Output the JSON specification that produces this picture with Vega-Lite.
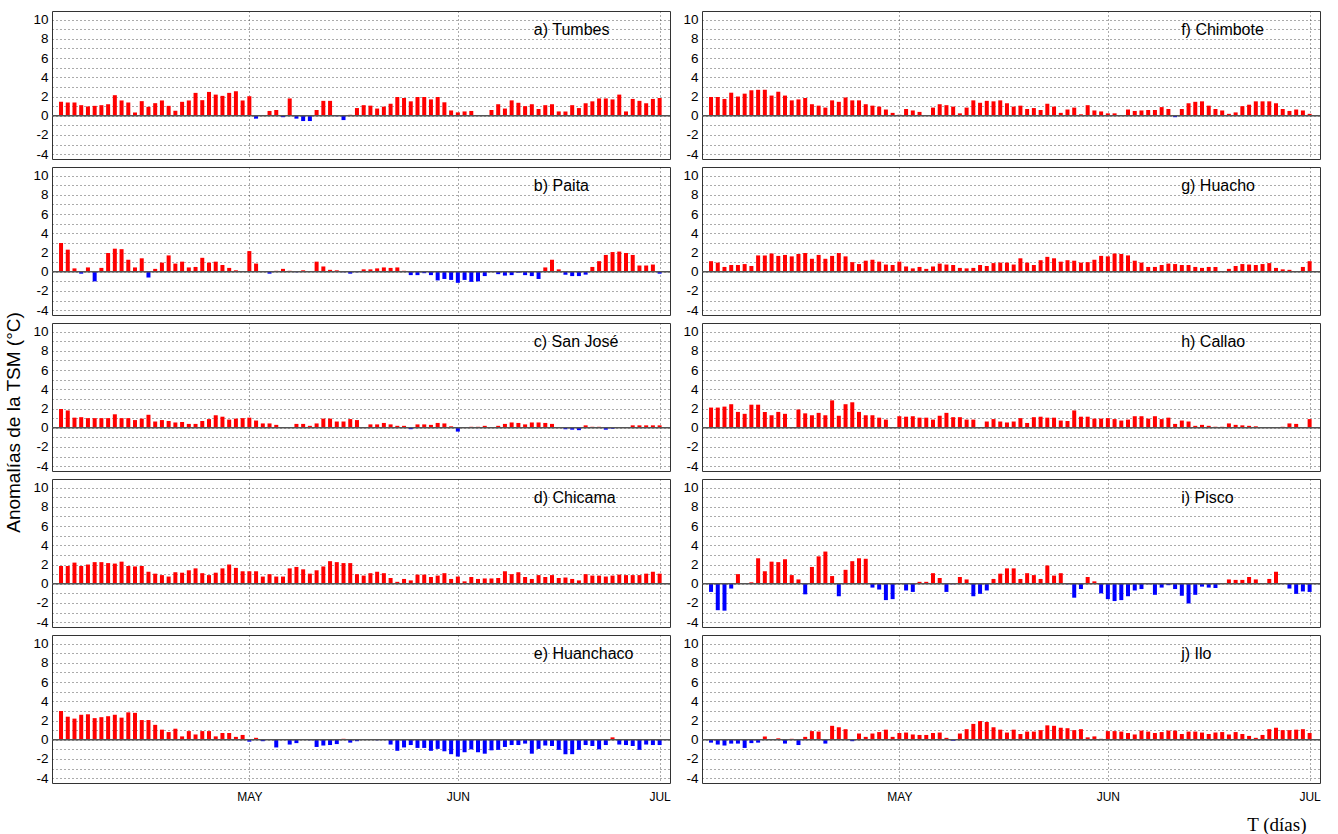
{
"$schema": "https://vega.github.io/schema/vega-lite/v6.json",
"background": "white",
"padding": {"left": 5, "top": 10, "right": 0, "bottom": 0},
"title": {"text": "Anomalías de la TSM (°C)", "orient": "left", "anchor": "middle", "font": "Liberation Sans", "fontSize": 19, "fontWeight": "normal", "color": "#000", "offset": 8},
"config": {
  "view": {"stroke": "#333", "strokeWidth": 1},
  "font": "Liberation Sans",
  "axis": {"labelFont": "Liberation Sans", "labelColor": "#000", "domain": false, "gridColor": "#222", "gridDash": [1, 3], "gridWidth": 0.9, "gridOpacity": 0.85, "tickColor": "#333", "labelFontSize": 13.5, "labelOverlap": false}
},
"datasets": {"t": [
{"s":"a","d":-28,"v":1.45},{"s":"a","d":-27,"v":1.38},{"s":"a","d":-26,"v":1.38},{"s":"a","d":-25,"v":1.1},{"s":"a","d":-24,"v":0.97},{"s":"a","d":-23,"v":1.03},{"s":"a","d":-22,"v":1.1},{"s":"a","d":-21,"v":1.2},{"s":"a","d":-20,"v":2.14},{"s":"a","d":-19,"v":1.59},{"s":"a","d":-18,"v":1.38},{"s":"a","d":-17,"v":0.34},{"s":"a","d":-16,"v":1.52},{"s":"a","d":-15,"v":0.93},{"s":"a","d":-14,"v":1.31},{"s":"a","d":-13,"v":1.59},{"s":"a","d":-12,"v":1.03},{"s":"a","d":-11,"v":0.52},{"s":"a","d":-10,"v":1.45},{"s":"a","d":-9,"v":1.59},{"s":"a","d":-8,"v":2.38},{"s":"a","d":-7,"v":1.62},{"s":"a","d":-6,"v":2.48},{"s":"a","d":-5,"v":2.2},{"s":"a","d":-4,"v":2.07},{"s":"a","d":-3,"v":2.38},{"s":"a","d":-2,"v":2.55},{"s":"a","d":-1,"v":1.59},{"s":"a","d":0,"v":2.03},
{"s":"a","d":1,"v":-0.3},{"s":"a","d":2,"v":0},{"s":"a","d":3,"v":0.5},{"s":"a","d":4,"v":0.6},{"s":"a","d":5,"v":-0.15},{"s":"a","d":6,"v":1.8},{"s":"a","d":7,"v":-0.3},{"s":"a","d":8,"v":-0.55},{"s":"a","d":9,"v":-0.55},{"s":"a","d":10,"v":0.6},{"s":"a","d":11,"v":1.55},{"s":"a","d":12,"v":1.55},{"s":"a","d":13,"v":-0.05},{"s":"a","d":14,"v":-0.45},{"s":"a","d":15,"v":0.1},{"s":"a","d":16,"v":0.8},{"s":"a","d":17,"v":1.1},{"s":"a","d":18,"v":1.05},{"s":"a","d":19,"v":0.75},{"s":"a","d":20,"v":0.95},{"s":"a","d":21,"v":1.25},{"s":"a","d":22,"v":1.95},{"s":"a","d":23,"v":1.85},{"s":"a","d":24,"v":1.5},{"s":"a","d":25,"v":1.95},{"s":"a","d":26,"v":1.95},{"s":"a","d":27,"v":1.7},{"s":"a","d":28,"v":1.95},{"s":"a","d":29,"v":1.4},{"s":"a","d":30,"v":0.55},
{"s":"a","d":31,"v":0.35},{"s":"a","d":32,"v":0.45},{"s":"a","d":33,"v":0.5},{"s":"a","d":34,"v":0},{"s":"a","d":35,"v":0.05},{"s":"a","d":36,"v":0.6},{"s":"a","d":37,"v":1.2},{"s":"a","d":38,"v":0.75},{"s":"a","d":39,"v":1.6},{"s":"a","d":40,"v":1.35},{"s":"a","d":41,"v":1.0},{"s":"a","d":42,"v":1.2},{"s":"a","d":43,"v":0.7},{"s":"a","d":44,"v":1.1},{"s":"a","d":45,"v":1.2},{"s":"a","d":46,"v":0.45},{"s":"a","d":47,"v":0.45},{"s":"a","d":48,"v":1.1},{"s":"a","d":49,"v":0.8},{"s":"a","d":50,"v":1.3},{"s":"a","d":51,"v":1.5},{"s":"a","d":52,"v":1.8},{"s":"a","d":53,"v":1.8},{"s":"a","d":54,"v":1.7},{"s":"a","d":55,"v":2.2},{"s":"a","d":56,"v":0.45},{"s":"a","d":57,"v":1.75},{"s":"a","d":58,"v":1.55},{"s":"a","d":59,"v":1.3},{"s":"a","d":60,"v":1.75},{"s":"a","d":61,"v":1.85},
{"s":"b","d":-28,"v":3.0},{"s":"b","d":-27,"v":2.3},{"s":"b","d":-26,"v":0.35},{"s":"b","d":-25,"v":-0.2},{"s":"b","d":-24,"v":0.45},{"s":"b","d":-23,"v":-1.0},{"s":"b","d":-22,"v":0.4},{"s":"b","d":-21,"v":1.95},{"s":"b","d":-20,"v":2.4},{"s":"b","d":-19,"v":2.35},{"s":"b","d":-18,"v":1.25},{"s":"b","d":-17,"v":0.45},{"s":"b","d":-16,"v":1.4},{"s":"b","d":-15,"v":-0.6},{"s":"b","d":-14,"v":0.3},{"s":"b","d":-13,"v":0.95},{"s":"b","d":-12,"v":1.7},{"s":"b","d":-11,"v":0.85},{"s":"b","d":-10,"v":1.05},{"s":"b","d":-9,"v":0.45},{"s":"b","d":-8,"v":0.5},{"s":"b","d":-7,"v":1.45},{"s":"b","d":-6,"v":0.95},{"s":"b","d":-5,"v":1.05},{"s":"b","d":-4,"v":0.7},{"s":"b","d":-3,"v":0.4},{"s":"b","d":-2,"v":0.15},{"s":"b","d":-1,"v":0.05},{"s":"b","d":0,"v":2.15},
{"s":"b","d":1,"v":0.85},{"s":"b","d":2,"v":0},{"s":"b","d":3,"v":-0.2},{"s":"b","d":4,"v":0.1},{"s":"b","d":5,"v":0.3},{"s":"b","d":6,"v":0.1},{"s":"b","d":7,"v":-0.05},{"s":"b","d":8,"v":0.15},{"s":"b","d":9,"v":0},{"s":"b","d":10,"v":1.05},{"s":"b","d":11,"v":0.55},{"s":"b","d":12,"v":0.2},{"s":"b","d":13,"v":0.15},{"s":"b","d":14,"v":-0.05},{"s":"b","d":15,"v":-0.2},{"s":"b","d":16,"v":-0.05},{"s":"b","d":17,"v":0.25},{"s":"b","d":18,"v":0.25},{"s":"b","d":19,"v":0.35},{"s":"b","d":20,"v":0.45},{"s":"b","d":21,"v":0.4},{"s":"b","d":22,"v":0.45},{"s":"b","d":23,"v":0.1},{"s":"b","d":24,"v":-0.35},{"s":"b","d":25,"v":-0.35},{"s":"b","d":26,"v":-0.15},{"s":"b","d":27,"v":-0.35},{"s":"b","d":28,"v":-0.9},{"s":"b","d":29,"v":-0.75},{"s":"b","d":30,"v":-0.85},
{"s":"b","d":31,"v":-1.15},{"s":"b","d":32,"v":-0.85},{"s":"b","d":33,"v":-1.05},{"s":"b","d":34,"v":-1.0},{"s":"b","d":35,"v":-0.45},{"s":"b","d":36,"v":0},{"s":"b","d":37,"v":-0.25},{"s":"b","d":38,"v":-0.4},{"s":"b","d":39,"v":-0.35},{"s":"b","d":40,"v":-0.1},{"s":"b","d":41,"v":-0.35},{"s":"b","d":42,"v":-0.45},{"s":"b","d":43,"v":-0.75},{"s":"b","d":44,"v":0.45},{"s":"b","d":45,"v":1.25},{"s":"b","d":46,"v":0.25},{"s":"b","d":47,"v":-0.3},{"s":"b","d":48,"v":-0.45},{"s":"b","d":49,"v":-0.45},{"s":"b","d":50,"v":-0.3},{"s":"b","d":51,"v":0.5},{"s":"b","d":52,"v":1.1},{"s":"b","d":53,"v":1.75},{"s":"b","d":54,"v":2.05},{"s":"b","d":55,"v":2.1},{"s":"b","d":56,"v":1.95},{"s":"b","d":57,"v":1.75},{"s":"b","d":58,"v":0.65},{"s":"b","d":59,"v":0.65},{"s":"b","d":60,"v":0.75},{"s":"b","d":61,"v":-0.2},
{"s":"c","d":-28,"v":1.95},{"s":"c","d":-27,"v":1.8},{"s":"c","d":-26,"v":1.05},{"s":"c","d":-25,"v":1.1},{"s":"c","d":-24,"v":1.0},{"s":"c","d":-23,"v":1.0},{"s":"c","d":-22,"v":1.0},{"s":"c","d":-21,"v":1.0},{"s":"c","d":-20,"v":1.4},{"s":"c","d":-19,"v":1.0},{"s":"c","d":-18,"v":1.0},{"s":"c","d":-17,"v":0.8},{"s":"c","d":-16,"v":0.95},{"s":"c","d":-15,"v":1.35},{"s":"c","d":-14,"v":0.65},{"s":"c","d":-13,"v":0.8},{"s":"c","d":-12,"v":0.7},{"s":"c","d":-11,"v":0.55},{"s":"c","d":-10,"v":0.6},{"s":"c","d":-9,"v":0.4},{"s":"c","d":-8,"v":0.4},{"s":"c","d":-7,"v":0.7},{"s":"c","d":-6,"v":0.9},{"s":"c","d":-5,"v":1.3},{"s":"c","d":-4,"v":1.15},{"s":"c","d":-3,"v":0.85},{"s":"c","d":-2,"v":0.95},{"s":"c","d":-1,"v":1.0},{"s":"c","d":0,"v":1.05},
{"s":"c","d":1,"v":0.75},{"s":"c","d":2,"v":0.45},{"s":"c","d":3,"v":0.45},{"s":"c","d":4,"v":0.3},{"s":"c","d":5,"v":0},{"s":"c","d":6,"v":0},{"s":"c","d":7,"v":0.4},{"s":"c","d":8,"v":0.4},{"s":"c","d":9,"v":0.2},{"s":"c","d":10,"v":0.45},{"s":"c","d":11,"v":0.95},{"s":"c","d":12,"v":0.95},{"s":"c","d":13,"v":0.65},{"s":"c","d":14,"v":0.65},{"s":"c","d":15,"v":0.9},{"s":"c","d":16,"v":0.8},{"s":"c","d":17,"v":0.05},{"s":"c","d":18,"v":0.35},{"s":"c","d":19,"v":0.35},{"s":"c","d":20,"v":0.5},{"s":"c","d":21,"v":0.35},{"s":"c","d":22,"v":0.2},{"s":"c","d":23,"v":0.2},{"s":"c","d":24,"v":-0.15},{"s":"c","d":25,"v":0.35},{"s":"c","d":26,"v":0.35},{"s":"c","d":27,"v":0.3},{"s":"c","d":28,"v":0.5},{"s":"c","d":29,"v":0.45},{"s":"c","d":30,"v":0.15},
{"s":"c","d":31,"v":-0.4},{"s":"c","d":32,"v":0},{"s":"c","d":33,"v":0.1},{"s":"c","d":34,"v":0.1},{"s":"c","d":35,"v":0.2},{"s":"c","d":36,"v":0},{"s":"c","d":37,"v":0.2},{"s":"c","d":38,"v":0.4},{"s":"c","d":39,"v":0.55},{"s":"c","d":40,"v":0.5},{"s":"c","d":41,"v":0.35},{"s":"c","d":42,"v":0.55},{"s":"c","d":43,"v":0.55},{"s":"c","d":44,"v":0.5},{"s":"c","d":45,"v":0.4},{"s":"c","d":46,"v":0},{"s":"c","d":47,"v":-0.15},{"s":"c","d":48,"v":-0.2},{"s":"c","d":49,"v":-0.25},{"s":"c","d":50,"v":0.25},{"s":"c","d":51,"v":0.1},{"s":"c","d":52,"v":0.1},{"s":"c","d":53,"v":-0.2},{"s":"c","d":54,"v":-0.1},{"s":"c","d":55,"v":0},{"s":"c","d":56,"v":0},{"s":"c","d":57,"v":0.25},{"s":"c","d":58,"v":0.25},{"s":"c","d":59,"v":0.25},{"s":"c","d":60,"v":0.25},{"s":"c","d":61,"v":0.25},
{"s":"d","d":-28,"v":1.85},{"s":"d","d":-27,"v":1.85},{"s":"d","d":-26,"v":2.2},{"s":"d","d":-25,"v":1.85},{"s":"d","d":-24,"v":2.0},{"s":"d","d":-23,"v":2.25},{"s":"d","d":-22,"v":2.25},{"s":"d","d":-21,"v":2.15},{"s":"d","d":-20,"v":2.1},{"s":"d","d":-19,"v":2.3},{"s":"d","d":-18,"v":1.85},{"s":"d","d":-17,"v":1.8},{"s":"d","d":-16,"v":1.85},{"s":"d","d":-15,"v":1.25},{"s":"d","d":-14,"v":1.05},{"s":"d","d":-13,"v":0.9},{"s":"d","d":-12,"v":0.75},{"s":"d","d":-11,"v":1.2},{"s":"d","d":-10,"v":1.15},{"s":"d","d":-9,"v":1.4},{"s":"d","d":-8,"v":1.6},{"s":"d","d":-7,"v":1.1},{"s":"d","d":-6,"v":0.9},{"s":"d","d":-5,"v":1.15},{"s":"d","d":-4,"v":1.6},{"s":"d","d":-3,"v":2.0},{"s":"d","d":-2,"v":1.65},{"s":"d","d":-1,"v":1.3},{"s":"d","d":0,"v":1.3},
{"s":"d","d":1,"v":1.3},{"s":"d","d":2,"v":0.75},{"s":"d","d":3,"v":1.0},{"s":"d","d":4,"v":0.75},{"s":"d","d":5,"v":0.75},{"s":"d","d":6,"v":1.6},{"s":"d","d":7,"v":1.75},{"s":"d","d":8,"v":1.5},{"s":"d","d":9,"v":1.05},{"s":"d","d":10,"v":1.4},{"s":"d","d":11,"v":1.8},{"s":"d","d":12,"v":2.35},{"s":"d","d":13,"v":2.25},{"s":"d","d":14,"v":2.15},{"s":"d","d":15,"v":2.15},{"s":"d","d":16,"v":1.0},{"s":"d","d":17,"v":0.85},{"s":"d","d":18,"v":1.1},{"s":"d","d":19,"v":1.25},{"s":"d","d":20,"v":1.1},{"s":"d","d":21,"v":0.6},{"s":"d","d":22,"v":0.2},{"s":"d","d":23,"v":0.5},{"s":"d","d":24,"v":0.35},{"s":"d","d":25,"v":0.95},{"s":"d","d":26,"v":0.95},{"s":"d","d":27,"v":0.7},{"s":"d","d":28,"v":0.85},{"s":"d","d":29,"v":1.1},{"s":"d","d":30,"v":0.5},
{"s":"d","d":31,"v":0.75},{"s":"d","d":32,"v":0.25},{"s":"d","d":33,"v":0.7},{"s":"d","d":34,"v":0.5},{"s":"d","d":35,"v":0.55},{"s":"d","d":36,"v":0.55},{"s":"d","d":37,"v":0.6},{"s":"d","d":38,"v":1.3},{"s":"d","d":39,"v":1.0},{"s":"d","d":40,"v":1.2},{"s":"d","d":41,"v":0.7},{"s":"d","d":42,"v":0.5},{"s":"d","d":43,"v":0.9},{"s":"d","d":44,"v":0.7},{"s":"d","d":45,"v":0.9},{"s":"d","d":46,"v":0.6},{"s":"d","d":47,"v":0.65},{"s":"d","d":48,"v":0.5},{"s":"d","d":49,"v":0.35},{"s":"d","d":50,"v":1.0},{"s":"d","d":51,"v":0.85},{"s":"d","d":52,"v":0.85},{"s":"d","d":53,"v":0.75},{"s":"d","d":54,"v":0.85},{"s":"d","d":55,"v":0.95},{"s":"d","d":56,"v":0.9},{"s":"d","d":57,"v":0.9},{"s":"d","d":58,"v":0.9},{"s":"d","d":59,"v":1.05},{"s":"d","d":60,"v":1.25},{"s":"d","d":61,"v":1.05},
{"s":"e","d":-28,"v":3.0},{"s":"e","d":-27,"v":2.4},{"s":"e","d":-26,"v":2.2},{"s":"e","d":-25,"v":2.6},{"s":"e","d":-24,"v":2.65},{"s":"e","d":-23,"v":2.25},{"s":"e","d":-22,"v":2.35},{"s":"e","d":-21,"v":2.45},{"s":"e","d":-20,"v":2.6},{"s":"e","d":-19,"v":2.3},{"s":"e","d":-18,"v":2.85},{"s":"e","d":-17,"v":2.8},{"s":"e","d":-16,"v":2.05},{"s":"e","d":-15,"v":2.05},{"s":"e","d":-14,"v":1.55},{"s":"e","d":-13,"v":1.05},{"s":"e","d":-12,"v":0.8},{"s":"e","d":-11,"v":1.15},{"s":"e","d":-10,"v":0.35},{"s":"e","d":-9,"v":0.9},{"s":"e","d":-8,"v":0.55},{"s":"e","d":-7,"v":0.9},{"s":"e","d":-6,"v":0.9},{"s":"e","d":-5,"v":0.35},{"s":"e","d":-4,"v":0.7},{"s":"e","d":-3,"v":0.7},{"s":"e","d":-2,"v":0.3},{"s":"e","d":-1,"v":0.5},{"s":"e","d":0,"v":-0.2},
{"s":"e","d":1,"v":0.2},{"s":"e","d":2,"v":-0.15},{"s":"e","d":3,"v":0},{"s":"e","d":4,"v":-0.8},{"s":"e","d":5,"v":0.05},{"s":"e","d":6,"v":-0.5},{"s":"e","d":7,"v":-0.35},{"s":"e","d":8,"v":0},{"s":"e","d":9,"v":-0.05},{"s":"e","d":10,"v":-0.75},{"s":"e","d":11,"v":-0.6},{"s":"e","d":12,"v":-0.55},{"s":"e","d":13,"v":-0.45},{"s":"e","d":14,"v":0.1},{"s":"e","d":15,"v":-0.3},{"s":"e","d":16,"v":-0.15},{"s":"e","d":17,"v":0},{"s":"e","d":18,"v":0.05},{"s":"e","d":19,"v":-0.05},{"s":"e","d":20,"v":0},{"s":"e","d":21,"v":-0.5},{"s":"e","d":22,"v":-1.15},{"s":"e","d":23,"v":-0.8},{"s":"e","d":24,"v":-0.55},{"s":"e","d":25,"v":-0.85},{"s":"e","d":26,"v":-0.85},{"s":"e","d":27,"v":-1.15},{"s":"e","d":28,"v":-0.95},{"s":"e","d":29,"v":-1.2},{"s":"e","d":30,"v":-1.5},
{"s":"e","d":31,"v":-1.75},{"s":"e","d":32,"v":-1.3},{"s":"e","d":33,"v":-1.0},{"s":"e","d":34,"v":-1.3},{"s":"e","d":35,"v":-1.45},{"s":"e","d":36,"v":-1.1},{"s":"e","d":37,"v":-1.05},{"s":"e","d":38,"v":-0.75},{"s":"e","d":39,"v":-0.55},{"s":"e","d":40,"v":-0.55},{"s":"e","d":41,"v":-0.4},{"s":"e","d":42,"v":-1.45},{"s":"e","d":43,"v":-0.95},{"s":"e","d":44,"v":-0.6},{"s":"e","d":45,"v":-0.65},{"s":"e","d":46,"v":-1.05},{"s":"e","d":47,"v":-1.5},{"s":"e","d":48,"v":-1.5},{"s":"e","d":49,"v":-1.05},{"s":"e","d":50,"v":-0.55},{"s":"e","d":51,"v":-0.65},{"s":"e","d":52,"v":-1.0},{"s":"e","d":53,"v":-0.55},{"s":"e","d":54,"v":0.25},{"s":"e","d":55,"v":-0.5},{"s":"e","d":56,"v":-0.55},{"s":"e","d":57,"v":-0.65},{"s":"e","d":58,"v":-1.05},{"s":"e","d":59,"v":-0.5},{"s":"e","d":60,"v":-0.55},{"s":"e","d":61,"v":-0.55},
{"s":"f","d":-28,"v":1.95},{"s":"f","d":-27,"v":1.95},{"s":"f","d":-26,"v":1.75},{"s":"f","d":-25,"v":2.4},{"s":"f","d":-24,"v":2.0},{"s":"f","d":-23,"v":2.3},{"s":"f","d":-22,"v":2.65},{"s":"f","d":-21,"v":2.7},{"s":"f","d":-20,"v":2.7},{"s":"f","d":-19,"v":2.1},{"s":"f","d":-18,"v":2.5},{"s":"f","d":-17,"v":2.1},{"s":"f","d":-16,"v":1.6},{"s":"f","d":-15,"v":1.7},{"s":"f","d":-14,"v":1.85},{"s":"f","d":-13,"v":1.2},{"s":"f","d":-12,"v":1.05},{"s":"f","d":-11,"v":0.85},{"s":"f","d":-10,"v":1.6},{"s":"f","d":-9,"v":1.45},{"s":"f","d":-8,"v":1.9},{"s":"f","d":-7,"v":1.6},{"s":"f","d":-6,"v":1.6},{"s":"f","d":-5,"v":1.2},{"s":"f","d":-4,"v":1.05},{"s":"f","d":-3,"v":0.95},{"s":"f","d":-2,"v":0.65},{"s":"f","d":-1,"v":0.3},{"s":"f","d":0,"v":0.1},
{"s":"f","d":1,"v":0.7},{"s":"f","d":2,"v":0.55},{"s":"f","d":3,"v":0.4},{"s":"f","d":4,"v":0},{"s":"f","d":5,"v":0.85},{"s":"f","d":6,"v":1.2},{"s":"f","d":7,"v":1.1},{"s":"f","d":8,"v":0.95},{"s":"f","d":9,"v":0.25},{"s":"f","d":10,"v":0.85},{"s":"f","d":11,"v":1.6},{"s":"f","d":12,"v":1.35},{"s":"f","d":13,"v":1.55},{"s":"f","d":14,"v":1.5},{"s":"f","d":15,"v":1.6},{"s":"f","d":16,"v":1.3},{"s":"f","d":17,"v":0.95},{"s":"f","d":18,"v":1.05},{"s":"f","d":19,"v":0.7},{"s":"f","d":20,"v":0.8},{"s":"f","d":21,"v":0.6},{"s":"f","d":22,"v":1.25},{"s":"f","d":23,"v":0.95},{"s":"f","d":24,"v":0.3},{"s":"f","d":25,"v":0.65},{"s":"f","d":26,"v":0.85},{"s":"f","d":27,"v":0.15},{"s":"f","d":28,"v":1.1},{"s":"f","d":29,"v":0.55},{"s":"f","d":30,"v":0.45},
{"s":"f","d":31,"v":0.25},{"s":"f","d":32,"v":0.25},{"s":"f","d":33,"v":0},{"s":"f","d":34,"v":0.65},{"s":"f","d":35,"v":0.5},{"s":"f","d":36,"v":0.55},{"s":"f","d":37,"v":0.6},{"s":"f","d":38,"v":0.6},{"s":"f","d":39,"v":0.9},{"s":"f","d":40,"v":0.7},{"s":"f","d":41,"v":-0.15},{"s":"f","d":42,"v":0.7},{"s":"f","d":43,"v":1.3},{"s":"f","d":44,"v":1.45},{"s":"f","d":45,"v":1.5},{"s":"f","d":46,"v":1.05},{"s":"f","d":47,"v":0.7},{"s":"f","d":48,"v":0.55},{"s":"f","d":49,"v":0.2},{"s":"f","d":50,"v":0.35},{"s":"f","d":51,"v":1.0},{"s":"f","d":52,"v":1.15},{"s":"f","d":53,"v":1.5},{"s":"f","d":54,"v":1.5},{"s":"f","d":55,"v":1.5},{"s":"f","d":56,"v":1.3},{"s":"f","d":57,"v":0.7},{"s":"f","d":58,"v":0.5},{"s":"f","d":59,"v":0.65},{"s":"f","d":60,"v":0.55},{"s":"f","d":61,"v":0.2},
{"s":"g","d":-28,"v":1.1},{"s":"g","d":-27,"v":0.95},{"s":"g","d":-26,"v":0.5},{"s":"g","d":-25,"v":0.7},{"s":"g","d":-24,"v":0.7},{"s":"g","d":-23,"v":0.8},{"s":"g","d":-22,"v":0.6},{"s":"g","d":-21,"v":1.7},{"s":"g","d":-20,"v":1.7},{"s":"g","d":-19,"v":1.9},{"s":"g","d":-18,"v":1.65},{"s":"g","d":-17,"v":1.75},{"s":"g","d":-16,"v":1.6},{"s":"g","d":-15,"v":1.85},{"s":"g","d":-14,"v":1.95},{"s":"g","d":-13,"v":1.35},{"s":"g","d":-12,"v":1.75},{"s":"g","d":-11,"v":1.35},{"s":"g","d":-10,"v":1.65},{"s":"g","d":-9,"v":1.95},{"s":"g","d":-8,"v":1.6},{"s":"g","d":-7,"v":1.0},{"s":"g","d":-6,"v":0.8},{"s":"g","d":-5,"v":1.15},{"s":"g","d":-4,"v":1.25},{"s":"g","d":-3,"v":1.05},{"s":"g","d":-2,"v":0.75},{"s":"g","d":-1,"v":0.7},{"s":"g","d":0,"v":1.05},
{"s":"g","d":1,"v":0.55},{"s":"g","d":2,"v":0.35},{"s":"g","d":3,"v":0.5},{"s":"g","d":4,"v":0.3},{"s":"g","d":5,"v":0.55},{"s":"g","d":6,"v":0.85},{"s":"g","d":7,"v":0.75},{"s":"g","d":8,"v":0.7},{"s":"g","d":9,"v":0.4},{"s":"g","d":10,"v":0.35},{"s":"g","d":11,"v":0.4},{"s":"g","d":12,"v":0.7},{"s":"g","d":13,"v":0.6},{"s":"g","d":14,"v":0.9},{"s":"g","d":15,"v":0.95},{"s":"g","d":16,"v":0.95},{"s":"g","d":17,"v":0.75},{"s":"g","d":18,"v":1.4},{"s":"g","d":19,"v":0.95},{"s":"g","d":20,"v":0.7},{"s":"g","d":21,"v":1.2},{"s":"g","d":22,"v":1.55},{"s":"g","d":23,"v":1.4},{"s":"g","d":24,"v":1.05},{"s":"g","d":25,"v":1.2},{"s":"g","d":26,"v":1.15},{"s":"g","d":27,"v":0.95},{"s":"g","d":28,"v":1.0},{"s":"g","d":29,"v":1.25},{"s":"g","d":30,"v":1.65},
{"s":"g","d":31,"v":1.6},{"s":"g","d":32,"v":1.9},{"s":"g","d":33,"v":1.85},{"s":"g","d":34,"v":1.7},{"s":"g","d":35,"v":1.15},{"s":"g","d":36,"v":0.95},{"s":"g","d":37,"v":0.5},{"s":"g","d":38,"v":0.5},{"s":"g","d":39,"v":0.7},{"s":"g","d":40,"v":0.85},{"s":"g","d":41,"v":0.8},{"s":"g","d":42,"v":0.7},{"s":"g","d":43,"v":0.7},{"s":"g","d":44,"v":0.5},{"s":"g","d":45,"v":0.4},{"s":"g","d":46,"v":0.5},{"s":"g","d":47,"v":0.5},{"s":"g","d":48,"v":0},{"s":"g","d":49,"v":0.3},{"s":"g","d":50,"v":0.6},{"s":"g","d":51,"v":0.8},{"s":"g","d":52,"v":0.75},{"s":"g","d":53,"v":0.7},{"s":"g","d":54,"v":0.8},{"s":"g","d":55,"v":0.9},{"s":"g","d":56,"v":0.4},{"s":"g","d":57,"v":0.25},{"s":"g","d":58,"v":0.2},{"s":"g","d":59,"v":0},{"s":"g","d":60,"v":0.5},{"s":"g","d":61,"v":1.1},
{"s":"h","d":-28,"v":2.1},{"s":"h","d":-27,"v":2.1},{"s":"h","d":-26,"v":2.2},{"s":"h","d":-25,"v":2.45},{"s":"h","d":-24,"v":1.65},{"s":"h","d":-23,"v":1.45},{"s":"h","d":-22,"v":2.4},{"s":"h","d":-21,"v":2.4},{"s":"h","d":-20,"v":1.65},{"s":"h","d":-19,"v":1.3},{"s":"h","d":-18,"v":1.65},{"s":"h","d":-17,"v":1.45},{"s":"h","d":-16,"v":0},{"s":"h","d":-15,"v":1.9},{"s":"h","d":-14,"v":1.5},{"s":"h","d":-13,"v":1.3},{"s":"h","d":-12,"v":1.55},{"s":"h","d":-11,"v":1.3},{"s":"h","d":-10,"v":2.85},{"s":"h","d":-9,"v":1.25},{"s":"h","d":-8,"v":2.45},{"s":"h","d":-7,"v":2.65},{"s":"h","d":-6,"v":1.65},{"s":"h","d":-5,"v":1.3},{"s":"h","d":-4,"v":1.3},{"s":"h","d":-3,"v":1.05},{"s":"h","d":-2,"v":0.85},{"s":"h","d":-1,"v":0},{"s":"h","d":0,"v":1.2},
{"s":"h","d":1,"v":1.15},{"s":"h","d":2,"v":1.2},{"s":"h","d":3,"v":1.05},{"s":"h","d":4,"v":1.05},{"s":"h","d":5,"v":0.85},{"s":"h","d":6,"v":1.25},{"s":"h","d":7,"v":1.55},{"s":"h","d":8,"v":1.1},{"s":"h","d":9,"v":1.1},{"s":"h","d":10,"v":0.85},{"s":"h","d":11,"v":0.85},{"s":"h","d":12,"v":0},{"s":"h","d":13,"v":0.65},{"s":"h","d":14,"v":0.9},{"s":"h","d":15,"v":0.65},{"s":"h","d":16,"v":0.55},{"s":"h","d":17,"v":0.65},{"s":"h","d":18,"v":1.0},{"s":"h","d":19,"v":0.5},{"s":"h","d":20,"v":1.1},{"s":"h","d":21,"v":1.15},{"s":"h","d":22,"v":1.05},{"s":"h","d":23,"v":1.05},{"s":"h","d":24,"v":0.75},{"s":"h","d":25,"v":0.7},{"s":"h","d":26,"v":1.8},{"s":"h","d":27,"v":1.15},{"s":"h","d":28,"v":1.15},{"s":"h","d":29,"v":0.95},{"s":"h","d":30,"v":0.95},
{"s":"h","d":31,"v":1.0},{"s":"h","d":32,"v":0.9},{"s":"h","d":33,"v":0.75},{"s":"h","d":34,"v":0.85},{"s":"h","d":35,"v":1.2},{"s":"h","d":36,"v":1.2},{"s":"h","d":37,"v":0.95},{"s":"h","d":38,"v":1.2},{"s":"h","d":39,"v":0.9},{"s":"h","d":40,"v":1.05},{"s":"h","d":41,"v":0.4},{"s":"h","d":42,"v":0.75},{"s":"h","d":43,"v":0.65},{"s":"h","d":44,"v":0.2},{"s":"h","d":45,"v":0.3},{"s":"h","d":46,"v":0.2},{"s":"h","d":47,"v":0.1},{"s":"h","d":48,"v":0.1},{"s":"h","d":49,"v":0.45},{"s":"h","d":50,"v":0.3},{"s":"h","d":51,"v":0.25},{"s":"h","d":52,"v":0.2},{"s":"h","d":53,"v":0.15},{"s":"h","d":54,"v":0},{"s":"h","d":55,"v":0},{"s":"h","d":56,"v":0.05},{"s":"h","d":57,"v":0.1},{"s":"h","d":58,"v":0.45},{"s":"h","d":59,"v":0.4},{"s":"h","d":60,"v":0},{"s":"h","d":61,"v":0.9},
{"s":"i","d":-28,"v":-0.85},{"s":"i","d":-27,"v":-2.75},{"s":"i","d":-26,"v":-2.8},{"s":"i","d":-25,"v":-0.5},{"s":"i","d":-24,"v":1.0},{"s":"i","d":-23,"v":0},{"s":"i","d":-22,"v":0.15},{"s":"i","d":-21,"v":2.65},{"s":"i","d":-20,"v":1.3},{"s":"i","d":-19,"v":2.3},{"s":"i","d":-18,"v":2.25},{"s":"i","d":-17,"v":2.55},{"s":"i","d":-16,"v":0.9},{"s":"i","d":-15,"v":0.45},{"s":"i","d":-14,"v":-1.1},{"s":"i","d":-13,"v":1.75},{"s":"i","d":-12,"v":2.85},{"s":"i","d":-11,"v":3.35},{"s":"i","d":-10,"v":0.8},{"s":"i","d":-9,"v":-1.3},{"s":"i","d":-8,"v":1.45},{"s":"i","d":-7,"v":2.35},{"s":"i","d":-6,"v":2.65},{"s":"i","d":-5,"v":2.6},{"s":"i","d":-4,"v":-0.4},{"s":"i","d":-3,"v":-0.6},{"s":"i","d":-2,"v":-1.7},{"s":"i","d":-1,"v":-1.6},{"s":"i","d":0,"v":0},
{"s":"i","d":1,"v":-0.7},{"s":"i","d":2,"v":-0.85},{"s":"i","d":3,"v":0.2},{"s":"i","d":4,"v":0.2},{"s":"i","d":5,"v":1.1},{"s":"i","d":6,"v":0.6},{"s":"i","d":7,"v":-0.85},{"s":"i","d":8,"v":-0.05},{"s":"i","d":9,"v":0.7},{"s":"i","d":10,"v":0.45},{"s":"i","d":11,"v":-1.3},{"s":"i","d":12,"v":-1.05},{"s":"i","d":13,"v":-0.7},{"s":"i","d":14,"v":0.5},{"s":"i","d":15,"v":1.05},{"s":"i","d":16,"v":1.6},{"s":"i","d":17,"v":1.6},{"s":"i","d":18,"v":0.5},{"s":"i","d":19,"v":1.1},{"s":"i","d":20,"v":0.9},{"s":"i","d":21,"v":0.5},{"s":"i","d":22,"v":1.9},{"s":"i","d":23,"v":0.85},{"s":"i","d":24,"v":1.1},{"s":"i","d":25,"v":-0.05},{"s":"i","d":26,"v":-1.45},{"s":"i","d":27,"v":-0.55},{"s":"i","d":28,"v":0.7},{"s":"i","d":29,"v":0.25},{"s":"i","d":30,"v":-1.0},
{"s":"i","d":31,"v":-1.6},{"s":"i","d":32,"v":-1.8},{"s":"i","d":33,"v":-1.7},{"s":"i","d":34,"v":-1.3},{"s":"i","d":35,"v":-0.7},{"s":"i","d":36,"v":-0.55},{"s":"i","d":37,"v":-0.05},{"s":"i","d":38,"v":-1.15},{"s":"i","d":39,"v":-0.4},{"s":"i","d":40,"v":-0.15},{"s":"i","d":41,"v":-0.55},{"s":"i","d":42,"v":-1.25},{"s":"i","d":43,"v":-2.05},{"s":"i","d":44,"v":-1.15},{"s":"i","d":45,"v":-0.3},{"s":"i","d":46,"v":-0.4},{"s":"i","d":47,"v":-0.45},{"s":"i","d":48,"v":0},{"s":"i","d":49,"v":0.45},{"s":"i","d":50,"v":0.4},{"s":"i","d":51,"v":0.4},{"s":"i","d":52,"v":0.7},{"s":"i","d":53,"v":0.45},{"s":"i","d":54,"v":0.05},{"s":"i","d":55,"v":0.5},{"s":"i","d":56,"v":1.25},{"s":"i","d":57,"v":0},{"s":"i","d":58,"v":-0.5},{"s":"i","d":59,"v":-1.05},{"s":"i","d":60,"v":-0.8},{"s":"i","d":61,"v":-0.85},
{"s":"j","d":-28,"v":-0.3},{"s":"j","d":-27,"v":-0.5},{"s":"j","d":-26,"v":-0.6},{"s":"j","d":-25,"v":-0.4},{"s":"j","d":-24,"v":-0.4},{"s":"j","d":-23,"v":-0.85},{"s":"j","d":-22,"v":-0.35},{"s":"j","d":-21,"v":-0.3},{"s":"j","d":-20,"v":0.35},{"s":"j","d":-19,"v":0},{"s":"j","d":-18,"v":0.15},{"s":"j","d":-17,"v":-0.4},{"s":"j","d":-16,"v":0.1},{"s":"j","d":-15,"v":-0.55},{"s":"j","d":-14,"v":0.3},{"s":"j","d":-13,"v":0.9},{"s":"j","d":-12,"v":0.85},{"s":"j","d":-11,"v":-0.4},{"s":"j","d":-10,"v":1.45},{"s":"j","d":-9,"v":1.3},{"s":"j","d":-8,"v":1.1},{"s":"j","d":-7,"v":-0.15},{"s":"j","d":-6,"v":0.65},{"s":"j","d":-5,"v":0.3},{"s":"j","d":-4,"v":0.65},{"s":"j","d":-3,"v":0.8},{"s":"j","d":-2,"v":1.05},{"s":"j","d":-1,"v":0.3},{"s":"j","d":0,"v":0.7},
{"s":"j","d":1,"v":0.75},{"s":"j","d":2,"v":0.55},{"s":"j","d":3,"v":0.5},{"s":"j","d":4,"v":0.5},{"s":"j","d":5,"v":0.7},{"s":"j","d":6,"v":0.75},{"s":"j","d":7,"v":0.2},{"s":"j","d":8,"v":-0.1},{"s":"j","d":9,"v":0.65},{"s":"j","d":10,"v":1.1},{"s":"j","d":11,"v":1.65},{"s":"j","d":12,"v":1.95},{"s":"j","d":13,"v":1.85},{"s":"j","d":14,"v":1.3},{"s":"j","d":15,"v":1.05},{"s":"j","d":16,"v":0.75},{"s":"j","d":17,"v":1.05},{"s":"j","d":18,"v":0.6},{"s":"j","d":19,"v":0.85},{"s":"j","d":20,"v":0.85},{"s":"j","d":21,"v":1.0},{"s":"j","d":22,"v":1.5},{"s":"j","d":23,"v":1.45},{"s":"j","d":24,"v":1.25},{"s":"j","d":25,"v":1.2},{"s":"j","d":26,"v":1.0},{"s":"j","d":27,"v":1.1},{"s":"j","d":28,"v":0.25},{"s":"j","d":29,"v":0.35},{"s":"j","d":30,"v":0.1},
{"s":"j","d":31,"v":0.9},{"s":"j","d":32,"v":0.9},{"s":"j","d":33,"v":0.85},{"s":"j","d":34,"v":0.7},{"s":"j","d":35,"v":0.55},{"s":"j","d":36,"v":0.95},{"s":"j","d":37,"v":0.85},{"s":"j","d":38,"v":0.7},{"s":"j","d":39,"v":0.8},{"s":"j","d":40,"v":0.95},{"s":"j","d":41,"v":0.95},{"s":"j","d":42,"v":0.6},{"s":"j","d":43,"v":0.85},{"s":"j","d":44,"v":0.85},{"s":"j","d":45,"v":0.75},{"s":"j","d":46,"v":0.6},{"s":"j","d":47,"v":0.75},{"s":"j","d":48,"v":0.8},{"s":"j","d":49,"v":0.55},{"s":"j","d":50,"v":0.8},{"s":"j","d":51,"v":0.6},{"s":"j","d":52,"v":0.4},{"s":"j","d":53,"v":0.2},{"s":"j","d":54,"v":0.5},{"s":"j","d":55,"v":1.1},{"s":"j","d":56,"v":1.25},{"s":"j","d":57,"v":1.0},{"s":"j","d":58,"v":1.0},{"s":"j","d":59,"v":1.05},{"s":"j","d":60,"v":1.1},{"s":"j","d":61,"v":0.7}
]},
"data": {"name": "t"},
"columns": 2,
"bounds": "flush",
"spacing": {"row": 8, "column": 32},
"concat": [
{"width": 618, "height": 148, "layer": [
 {"transform": [{"filter": "datum.s === 'a'"}], "mark": {"type": "bar", "width": 4}, "encoding": {
  "x": {"field": "d", "type": "quantitative", "scale": {"domain": [-28.6, 61.8], "nice": false, "zero": false}, "axis": {"values": [0, 31, 61], "labels": false, "ticks": false, "grid": true, "title": null}},
  "y": {"field": "v", "type": "quantitative", "scale": {"domain": [-4.5, 10.9], "nice": false}, "axis": {"values": [-4,-3,-2,-1,0,1,2,3,4,5,6,7,8,9,10], "tickCount": 30, "labelExpr": "datum.value % 2 == 0 ? '' + datum.value : ''", "labelOverlap": false, "grid": true, "title": null, "ticks": false, "labelPadding": 4}},
  "color": {"condition": {"test": "datum.v < 0", "value": "#0000ff"}, "value": "#ff0000"}}},
 {"data": {"values": [{}]}, "mark": {"type": "rule", "color": "#555", "strokeWidth": 1.5}, "encoding": {"y": {"datum": 0}}},
 {"data": {"values": [{"label": "a) Tumbes"}]}, "mark": {"type": "text", "align": "left", "baseline": "middle", "fontSize": 16, "font": "Liberation Sans"}, "encoding": {"x": {"datum": 42.3}, "y": {"datum": 8.9}, "text": {"field": "label"}}}
]},
{"width": 618, "height": 148, "layer": [
 {"transform": [{"filter": "datum.s === 'f'"}], "mark": {"type": "bar", "width": 4}, "encoding": {
  "x": {"field": "d", "type": "quantitative", "scale": {"domain": [-28.6, 61.8], "nice": false, "zero": false}, "axis": {"values": [0, 31, 61], "labels": false, "ticks": false, "grid": true, "title": null}},
  "y": {"field": "v", "type": "quantitative", "scale": {"domain": [-4.5, 10.9], "nice": false}, "axis": {"values": [-4,-3,-2,-1,0,1,2,3,4,5,6,7,8,9,10], "tickCount": 30, "labelExpr": "datum.value % 2 == 0 ? '' + datum.value : ''", "labelOverlap": false, "grid": true, "title": null, "ticks": false, "labelPadding": 4}},
  "color": {"condition": {"test": "datum.v < 0", "value": "#0000ff"}, "value": "#ff0000"}}},
 {"data": {"values": [{}]}, "mark": {"type": "rule", "color": "#555", "strokeWidth": 1.5}, "encoding": {"y": {"datum": 0}}},
 {"data": {"values": [{"label": "f) Chimbote"}]}, "mark": {"type": "text", "align": "left", "baseline": "middle", "fontSize": 16, "font": "Liberation Sans"}, "encoding": {"x": {"datum": 41.9}, "y": {"datum": 8.9}, "text": {"field": "label"}}}
]},
{"width": 618, "height": 148, "layer": [
 {"transform": [{"filter": "datum.s === 'b'"}], "mark": {"type": "bar", "width": 4}, "encoding": {
  "x": {"field": "d", "type": "quantitative", "scale": {"domain": [-28.6, 61.8], "nice": false, "zero": false}, "axis": {"values": [0, 31, 61], "labels": false, "ticks": false, "grid": true, "title": null}},
  "y": {"field": "v", "type": "quantitative", "scale": {"domain": [-4.5, 10.9], "nice": false}, "axis": {"values": [-4,-3,-2,-1,0,1,2,3,4,5,6,7,8,9,10], "tickCount": 30, "labelExpr": "datum.value % 2 == 0 ? '' + datum.value : ''", "labelOverlap": false, "grid": true, "title": null, "ticks": false, "labelPadding": 4}},
  "color": {"condition": {"test": "datum.v < 0", "value": "#0000ff"}, "value": "#ff0000"}}},
 {"data": {"values": [{}]}, "mark": {"type": "rule", "color": "#555", "strokeWidth": 1.5}, "encoding": {"y": {"datum": 0}}},
 {"data": {"values": [{"label": "b) Paita"}]}, "mark": {"type": "text", "align": "left", "baseline": "middle", "fontSize": 16, "font": "Liberation Sans"}, "encoding": {"x": {"datum": 42.3}, "y": {"datum": 8.9}, "text": {"field": "label"}}}
]},
{"width": 618, "height": 148, "layer": [
 {"transform": [{"filter": "datum.s === 'g'"}], "mark": {"type": "bar", "width": 4}, "encoding": {
  "x": {"field": "d", "type": "quantitative", "scale": {"domain": [-28.6, 61.8], "nice": false, "zero": false}, "axis": {"values": [0, 31, 61], "labels": false, "ticks": false, "grid": true, "title": null}},
  "y": {"field": "v", "type": "quantitative", "scale": {"domain": [-4.5, 10.9], "nice": false}, "axis": {"values": [-4,-3,-2,-1,0,1,2,3,4,5,6,7,8,9,10], "tickCount": 30, "labelExpr": "datum.value % 2 == 0 ? '' + datum.value : ''", "labelOverlap": false, "grid": true, "title": null, "ticks": false, "labelPadding": 4}},
  "color": {"condition": {"test": "datum.v < 0", "value": "#0000ff"}, "value": "#ff0000"}}},
 {"data": {"values": [{}]}, "mark": {"type": "rule", "color": "#555", "strokeWidth": 1.5}, "encoding": {"y": {"datum": 0}}},
 {"data": {"values": [{"label": "g) Huacho"}]}, "mark": {"type": "text", "align": "left", "baseline": "middle", "fontSize": 16, "font": "Liberation Sans"}, "encoding": {"x": {"datum": 41.9}, "y": {"datum": 8.9}, "text": {"field": "label"}}}
]},
{"width": 618, "height": 148, "layer": [
 {"transform": [{"filter": "datum.s === 'c'"}], "mark": {"type": "bar", "width": 4}, "encoding": {
  "x": {"field": "d", "type": "quantitative", "scale": {"domain": [-28.6, 61.8], "nice": false, "zero": false}, "axis": {"values": [0, 31, 61], "labels": false, "ticks": false, "grid": true, "title": null}},
  "y": {"field": "v", "type": "quantitative", "scale": {"domain": [-4.5, 10.9], "nice": false}, "axis": {"values": [-4,-3,-2,-1,0,1,2,3,4,5,6,7,8,9,10], "tickCount": 30, "labelExpr": "datum.value % 2 == 0 ? '' + datum.value : ''", "labelOverlap": false, "grid": true, "title": null, "ticks": false, "labelPadding": 4}},
  "color": {"condition": {"test": "datum.v < 0", "value": "#0000ff"}, "value": "#ff0000"}}},
 {"data": {"values": [{}]}, "mark": {"type": "rule", "color": "#555", "strokeWidth": 1.5}, "encoding": {"y": {"datum": 0}}},
 {"data": {"values": [{"label": "c) San José"}]}, "mark": {"type": "text", "align": "left", "baseline": "middle", "fontSize": 16, "font": "Liberation Sans"}, "encoding": {"x": {"datum": 42.3}, "y": {"datum": 8.9}, "text": {"field": "label"}}}
]},
{"width": 618, "height": 148, "layer": [
 {"transform": [{"filter": "datum.s === 'h'"}], "mark": {"type": "bar", "width": 4}, "encoding": {
  "x": {"field": "d", "type": "quantitative", "scale": {"domain": [-28.6, 61.8], "nice": false, "zero": false}, "axis": {"values": [0, 31, 61], "labels": false, "ticks": false, "grid": true, "title": null}},
  "y": {"field": "v", "type": "quantitative", "scale": {"domain": [-4.5, 10.9], "nice": false}, "axis": {"values": [-4,-3,-2,-1,0,1,2,3,4,5,6,7,8,9,10], "tickCount": 30, "labelExpr": "datum.value % 2 == 0 ? '' + datum.value : ''", "labelOverlap": false, "grid": true, "title": null, "ticks": false, "labelPadding": 4}},
  "color": {"condition": {"test": "datum.v < 0", "value": "#0000ff"}, "value": "#ff0000"}}},
 {"data": {"values": [{}]}, "mark": {"type": "rule", "color": "#555", "strokeWidth": 1.5}, "encoding": {"y": {"datum": 0}}},
 {"data": {"values": [{"label": "h) Callao"}]}, "mark": {"type": "text", "align": "left", "baseline": "middle", "fontSize": 16, "font": "Liberation Sans"}, "encoding": {"x": {"datum": 41.9}, "y": {"datum": 8.9}, "text": {"field": "label"}}}
]},
{"width": 618, "height": 148, "layer": [
 {"transform": [{"filter": "datum.s === 'd'"}], "mark": {"type": "bar", "width": 4}, "encoding": {
  "x": {"field": "d", "type": "quantitative", "scale": {"domain": [-28.6, 61.8], "nice": false, "zero": false}, "axis": {"values": [0, 31, 61], "labels": false, "ticks": false, "grid": true, "title": null}},
  "y": {"field": "v", "type": "quantitative", "scale": {"domain": [-4.5, 10.9], "nice": false}, "axis": {"values": [-4,-3,-2,-1,0,1,2,3,4,5,6,7,8,9,10], "tickCount": 30, "labelExpr": "datum.value % 2 == 0 ? '' + datum.value : ''", "labelOverlap": false, "grid": true, "title": null, "ticks": false, "labelPadding": 4}},
  "color": {"condition": {"test": "datum.v < 0", "value": "#0000ff"}, "value": "#ff0000"}}},
 {"data": {"values": [{}]}, "mark": {"type": "rule", "color": "#555", "strokeWidth": 1.5}, "encoding": {"y": {"datum": 0}}},
 {"data": {"values": [{"label": "d) Chicama"}]}, "mark": {"type": "text", "align": "left", "baseline": "middle", "fontSize": 16, "font": "Liberation Sans"}, "encoding": {"x": {"datum": 42.3}, "y": {"datum": 8.9}, "text": {"field": "label"}}}
]},
{"width": 618, "height": 148, "layer": [
 {"transform": [{"filter": "datum.s === 'i'"}], "mark": {"type": "bar", "width": 4}, "encoding": {
  "x": {"field": "d", "type": "quantitative", "scale": {"domain": [-28.6, 61.8], "nice": false, "zero": false}, "axis": {"values": [0, 31, 61], "labels": false, "ticks": false, "grid": true, "title": null}},
  "y": {"field": "v", "type": "quantitative", "scale": {"domain": [-4.5, 10.9], "nice": false}, "axis": {"values": [-4,-3,-2,-1,0,1,2,3,4,5,6,7,8,9,10], "tickCount": 30, "labelExpr": "datum.value % 2 == 0 ? '' + datum.value : ''", "labelOverlap": false, "grid": true, "title": null, "ticks": false, "labelPadding": 4}},
  "color": {"condition": {"test": "datum.v < 0", "value": "#0000ff"}, "value": "#ff0000"}}},
 {"data": {"values": [{}]}, "mark": {"type": "rule", "color": "#555", "strokeWidth": 1.5}, "encoding": {"y": {"datum": 0}}},
 {"data": {"values": [{"label": "i) Pisco"}]}, "mark": {"type": "text", "align": "left", "baseline": "middle", "fontSize": 16, "font": "Liberation Sans"}, "encoding": {"x": {"datum": 41.9}, "y": {"datum": 8.9}, "text": {"field": "label"}}}
]},
{"width": 618, "height": 148, "layer": [
 {"transform": [{"filter": "datum.s === 'e'"}], "mark": {"type": "bar", "width": 4}, "encoding": {
  "x": {"field": "d", "type": "quantitative", "scale": {"domain": [-28.6, 61.8], "nice": false, "zero": false}, "axis": {"values": [0, 31, 61], "labelExpr": "datum.value == 0 ? 'MAY' : datum.value == 31 ? 'JUN' : 'JUL'", "labelFontSize": 12, "labelPadding": 8, "ticks": false, "grid": true, "title": null}},
  "y": {"field": "v", "type": "quantitative", "scale": {"domain": [-4.5, 10.9], "nice": false}, "axis": {"values": [-4,-3,-2,-1,0,1,2,3,4,5,6,7,8,9,10], "tickCount": 30, "labelExpr": "datum.value % 2 == 0 ? '' + datum.value : ''", "labelOverlap": false, "grid": true, "title": null, "ticks": false, "labelPadding": 4}},
  "color": {"condition": {"test": "datum.v < 0", "value": "#0000ff"}, "value": "#ff0000"}}},
 {"data": {"values": [{}]}, "mark": {"type": "rule", "color": "#555", "strokeWidth": 1.5}, "encoding": {"y": {"datum": 0}}},
 {"data": {"values": [{"label": "e) Huanchaco"}]}, "mark": {"type": "text", "align": "left", "baseline": "middle", "fontSize": 16, "font": "Liberation Sans"}, "encoding": {"x": {"datum": 42.3}, "y": {"datum": 8.9}, "text": {"field": "label"}}}
]},
{"width": 618, "height": 148, "layer": [
 {"transform": [{"filter": "datum.s === 'j'"}], "mark": {"type": "bar", "width": 4}, "encoding": {
  "x": {"field": "d", "type": "quantitative", "scale": {"domain": [-28.6, 61.8], "nice": false, "zero": false}, "axis": {"values": [0, 31, 61], "labelExpr": "datum.value == 0 ? 'MAY' : datum.value == 31 ? 'JUN' : 'JUL'", "labelFontSize": 12, "labelPadding": 8, "ticks": false, "grid": true, "title": "T (días)", "titleFont": "Liberation Serif", "titleFontSize": 19, "titleFontWeight": "normal", "titleColor": "#000", "titleX": 604, "titleY": 41, "titleAlign": "right", "titleBaseline": "middle", "titleAnchor": null}},
  "y": {"field": "v", "type": "quantitative", "scale": {"domain": [-4.5, 10.9], "nice": false}, "axis": {"values": [-4,-3,-2,-1,0,1,2,3,4,5,6,7,8,9,10], "tickCount": 30, "labelExpr": "datum.value % 2 == 0 ? '' + datum.value : ''", "labelOverlap": false, "grid": true, "title": null, "ticks": false, "labelPadding": 4}},
  "color": {"condition": {"test": "datum.v < 0", "value": "#0000ff"}, "value": "#ff0000"}}},
 {"data": {"values": [{}]}, "mark": {"type": "rule", "color": "#555", "strokeWidth": 1.5}, "encoding": {"y": {"datum": 0}}},
 {"data": {"values": [{"label": "j) Ilo"}]}, "mark": {"type": "text", "align": "left", "baseline": "middle", "fontSize": 16, "font": "Liberation Sans"}, "encoding": {"x": {"datum": 41.9}, "y": {"datum": 8.9}, "text": {"field": "label"}}}
]}
]
}
